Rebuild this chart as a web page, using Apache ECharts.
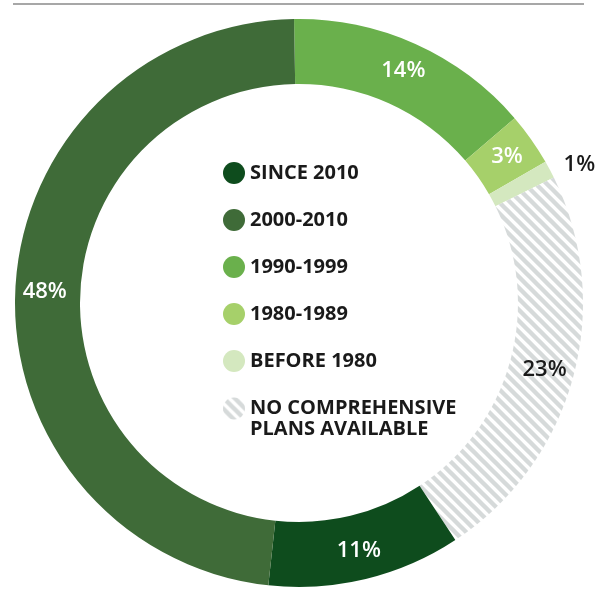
<!DOCTYPE html>
<html>
<head>
<meta charset="utf-8">
<script src="https://cdn.jsdelivr.net/npm/echarts@6.0.0/dist/echarts.min.js"></script>
<style>
  html, body { margin: 0; padding: 0; background: #ffffff; }
  #chart { width: 595px; height: 590px; }
</style>
</head>
<body>
<div id="chart"></div>
<script>
// Slices in clockwise drawing order, starting at 12 o'clock
const categories = ['1990-1999', '1980-1989', 'BEFORE 1980', 'NO COMPREHENSIVE\nPLANS AVAILABLE', 'SINCE 2010', '2000-2010'];
const values = [14, 3, 1, 23, 11, 48];
const sliceColors = ['#6ab04c', '#a6d06a', '#d4e8bf', 'hatch', '#0e4c1d', '#3f6b38'];
const labelColors = ['#ffffff', '#ffffff', '#1a1a1a', '#1a1a1a', '#ffffff', '#ffffff'];
const outsideLabel = ['BEFORE 1980'];
// Legend order
const legendMain = ['SINCE 2010', '2000-2010', '1990-1999', '1980-1989', 'BEFORE 1980'];
const legendExtra = ['NO COMPREHENSIVE\nPLANS AVAILABLE'];

function makeHatch() {
  const s = 11;
  const c = document.createElement('canvas');
  c.width = s; c.height = s;
  const ctx = c.getContext('2d');
  ctx.fillStyle = '#ffffff';
  ctx.fillRect(0, 0, s, s);
  ctx.strokeStyle = '#d6dada';
  ctx.lineWidth = 4.4;
  ctx.lineCap = 'square';
  ctx.beginPath();
  ctx.moveTo(-3, -3); ctx.lineTo(s + 3, s + 3);
  ctx.moveTo(-3, s - 3); ctx.lineTo(3, s + 3);
  ctx.moveTo(s - 3, -3); ctx.lineTo(s + 3, 3);
  ctx.stroke();
  return c;
}
const hatch = { image: makeHatch(), repeat: 'repeat' };

const FONT = '"Open Sans", "DejaVu Sans", sans-serif';

const data = categories.map((name, i) => {
  const isOut = outsideLabel.indexOf(name) >= 0;
  return {
    name: name,
    value: values[i],
    itemStyle: { color: sliceColors[i] === 'hatch' ? hatch : sliceColors[i] },
    label: isOut ? {
      position: 'outside',
      color: labelColors[i]
    } : {
      position: 'inside',
      color: labelColors[i]
    },
    labelLine: isOut ? { show: false, length: 10, length2: 0 } : { show: false }
  };
});

const legendText = {
  fontFamily: FONT,
  fontWeight: 700,
  fontSize: 20,
  color: '#1a1a1a',
  lineHeight: 22
};

const chart = echarts.init(document.getElementById('chart'), null, { renderer: 'canvas' });
chart.setOption({
  animation: false,
  backgroundColor: '#ffffff',
  graphic: [{
    type: 'line',
    shape: { x1: 13, y1: 4, x2: 584, y2: 4 },
    style: { stroke: '#8a8a8a', lineWidth: 1.5 }
  }],
  legend: [{
    orient: 'vertical',
    left: 218,
    top: 157,
    itemWidth: 22,
    itemHeight: 22,
    itemGap: 25,
    icon: 'circle',
    selectedMode: false,
    data: legendMain,
    textStyle: legendText
  }, {
    orient: 'vertical',
    left: 218,
    top: 372,
    itemWidth: 22,
    itemHeight: 22,
    icon: 'circle',
    selectedMode: false,
    data: legendExtra,
    formatter: function (name) { return '\n' + name; },
    textStyle: Object.assign({}, legendText, { lineHeight: 21 })
  }],
  series: [{
    type: 'pie',
    center: [299, 303],
    radius: [219, 284],
    startAngle: 91,
    clockwise: true,
    avoidLabelOverlap: false,
    silent: true,
    emphasis: { disabled: true },
    label: {
      show: true,
      formatter: '{c}%',
      fontFamily: FONT,
      fontWeight: 600,
      fontSize: 22
    },
    itemStyle: { borderWidth: 0 },
    data: data
  }]
});
</script>
</body>
</html>
